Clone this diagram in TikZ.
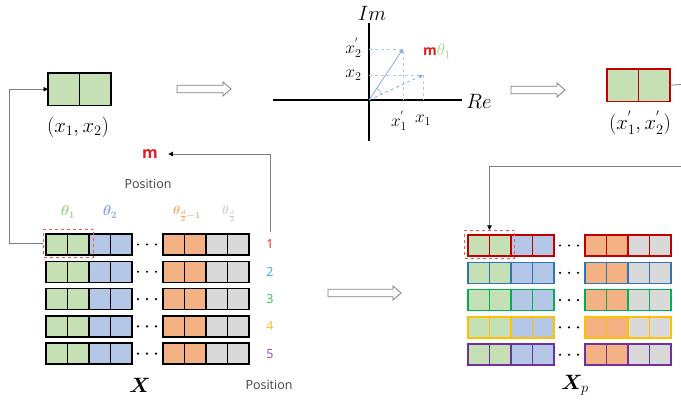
\documentclass[tikz,border=0pt]{standalone}
\usepackage{amsmath,bm}
\usepackage{fontspec}
\setsansfont{Open Sans}
\usetikzlibrary{arrows.meta,calc}
\definecolor{cgreen}{HTML}{C5E0B4}
\definecolor{cblue}{HTML}{B4C7E7}
\definecolor{corange}{HTML}{F4B183}
\definecolor{cgray}{HTML}{D9D9D9}
\definecolor{rred}{HTML}{C00000}
\definecolor{rblue}{HTML}{2E75B6}
\definecolor{rgreen}{HTML}{00B050}
\definecolor{ryellow}{HTML}{FFC000}
\definecolor{rpurple}{HTML}{7030A0}
\definecolor{nred}{HTML}{E02020}
\definecolor{nblue}{HTML}{30A8F8}
\definecolor{ngreen}{HTML}{30C050}
\definecolor{nyellow}{HTML}{FFC020}
\definecolor{npurple}{HTML}{9040C8}
\definecolor{linegray}{HTML}{7F7F7F}
\definecolor{vecblue}{HTML}{7FB0E8}
\definecolor{dashblue}{HTML}{A8CCF0}
\definecolor{tgreen}{HTML}{A9D18E}
\definecolor{tblue}{HTML}{8FAADC}
\definecolor{torange}{HTML}{F8A868}
\definecolor{tgray}{HTML}{D0D0D0}
\definecolor{boxred}{HTML}{FF5050}
\newcommand\harrow[3]{\draw[harr] (#1,#3-3.7) -- (#2-8,#3-3.7) -- (#2-8,#3-7) -- (#2,#3) -- (#2-8,#3+7) -- (#2-8,#3+3.7) -- (#1,#3+3.7) -- cycle;}
\begin{document}
\begin{tikzpicture}[x=1pt,y=-1pt,
  cell/.style={line width=1.4pt, minimum width=21.5pt, minimum height=21pt, inner sep=0pt, outer sep=0pt, anchor=north west},
  bigcell/.style={line width=1.4pt, minimum width=31.5pt, minimum height=32.5pt, inner sep=0pt, outer sep=0pt, anchor=north west, fill=cgreen},
  cellborder/.style={line width=1.4pt},
  conn/.style={draw=linegray, line width=0.8pt, -{Triangle[length=4.5pt,width=4.5pt,black]}},
  harr/.style={draw=linegray, line width=0.8pt, fill=white},
  dbox/.style={draw=boxred, dashed, line width=1pt, inner sep=0pt, minimum width=50pt, minimum height=28pt, anchor=north west},
  postext/.style={font=\sffamily\fontsize{12.5}{14}\selectfont, text=black!75},
  num/.style={font=\sffamily\fontsize{12.5}{14}\selectfont},
  mathlbl/.style={font=\fontsize{20}{22}\selectfont},
  smlbl/.style={font=\fontsize{17}{19}\selectfont},
  axlbl/.style={font=\fontsize{21}{23}\selectfont},
  thlbl/.style={font=\fontsize{14}{16}\selectfont},
  dotc/.style={circle, fill=black, inner sep=0pt, minimum size=2.4pt}
]
\useasboundingbox (0,0) rectangle (681,403);

% ---- top-left pair
\node[bigcell] (tl1) at (48,73) {};
\node[bigcell] (tl2) at (79.5,73) {};
\draw[cellborder] (tl1.north west) rectangle (tl1.south east);
\draw[cellborder] (tl2.north west) rectangle (tl2.south east);
\node[mathlbl] (tllbl) at (78,127) {$(x_1,x_2)$};

% ---- top-right pair
\node[bigcell] (tr1) at (607,69) {};
\node[bigcell] (tr2) at (638.5,69) {};
\draw[cellborder, rred] (tr1.north west) rectangle (tr1.south east);
\draw[cellborder, rred] (tr2.north west) rectangle (tr2.south east);
\node[mathlbl] (trlbl) at (640,123) {$(x_1^{'},x_2^{'})$};
\coordinate (trout) at (681,84.5);
\draw[draw=linegray, line width=0.8pt] (tr2.east) -- (trout);

% ---- hollow arrows
\harrow{177}{231}{89}
\harrow{511}{565}{90}
\harrow{328}{401}{293}

% ---- complex plane
\coordinate (O) at (369,100);
\coordinate (Rea) at (273,100);
\coordinate (Reb) at (462,100);
\coordinate (Ima) at (369,23);
\coordinate (Imb) at (369,141);
\draw[line width=1.6pt] (Rea) -- (Reb);
\draw[line width=1.6pt] (Ima) -- (Imb);
\node[axlbl] (im) at (372,13) {$Im$};
\node[axlbl] (re) at (479,101) {$Re$};
\coordinate (P1) at (423,75);
\coordinate (P2) at (403,49);
\draw[dashblue, dashed, line width=0.8pt] (369,75) -- (P1) -- (423,100);
\draw[dashblue, dashed, line width=0.8pt] (369,49) -- (P2) -- (403,100);
\draw[vecblue, dashed, line width=0.8pt, -{Triangle[length=4pt,width=4pt]}] (O) -- (P1);
\draw[vecblue, line width=0.8pt, -{Triangle[length=4pt,width=4pt]}] (O) -- (P2);
\draw[vecblue, line width=0.6pt] ($(O)+(12.7,-5.9)$) arc[start angle=-24.8, end angle=-56.3, radius=14];
\node[smlbl, anchor=east] (lx2p) at (365,48) {$x_2^{'}$};
\node[smlbl, anchor=east] (lx2) at (365,75) {$x_2$};
\node[smlbl] (lx1p) at (399,121) {$x_1^{'}$};
\node[smlbl] (lx1) at (423,120) {$x_1$};
\node[anchor=west, inner sep=0pt] (mth) at (423,51) {\textcolor{nred}{\sffamily\bfseries\fontsize{14}{16}\selectfont m}\textcolor{tgreen}{\fontsize{16}{18}\selectfont$\theta_1$}};

% ---- left matrix X
\node[font=\sffamily\bfseries\fontsize{16}{18}\selectfont, text=nred] (mlbl) at (150,154) {m};
\node[postext] (pos1) at (148,184) {Position};
\node[thlbl, text=tgreen] (th1) at (68,212) {$\bm{\theta}_{\bm{1}}$};
\node[thlbl, text=tblue] (th2) at (110,212) {$\bm{\theta}_{\bm{2}}$};
\node[font=\fontsize{13}{15}\selectfont, text=torange] (th3) at (187,214) {$\bm{\theta}_{\frac{\bm{d}}{\bm{2}}\bm{-1}}$};
\node[font=\fontsize{13}{15}\selectfont, text=tgray] (th4) at (229,214) {$\bm{\theta}_{\frac{\bm{d}}{\bm{2}}}$};

\foreach \r/\nc in {1/nred,2/nblue,3/ngreen,4/nyellow,5/npurple} {
  \pgfmathsetmacro{\yt}{234+(\r-1)*27.3}
  \foreach \c/\cx/\fc in {1/46/cgreen,2/67.5/cgreen,3/89/cblue,4/110.5/cblue,5/163/corange,6/184.5/corange,7/206/cgray,8/227.5/cgray} {
    \node[cell, fill=\fc] (L\r-\c) at (\cx,\yt) {};
  }
  \foreach \c in {1,...,8} {
    \draw[cellborder] (L\r-\c.north west) rectangle (L\r-\c.south east);
  }
  \node[dotc] (Ld\r a) at (138,\yt+10.5) {};
  \node[dotc] (Ld\r b) at (147,\yt+10.5) {};
  \node[dotc] (Ld\r c) at (156,\yt+10.5) {};
  \node[num, text=\nc] (N\r) at (270,\yt+10.5) {\r};
}
\node[dbox] (dboxL) at (43,229) {};
\node[font=\fontsize{21}{23}\selectfont] (Xlbl) at (140,385) {$\bm{X}$};
\node[postext] (pos2) at (269,385) {Position};

\coordinate (mstart) at (270,232);
\draw[conn] (mstart) |- ($(mlbl.east)+(7,0)$);
\draw[conn] (dboxL.west) -- ++(-34,0) |- (tl1.west);

% ---- right matrix Xp
\foreach \r/\rc in {1/rred,2/rblue,3/rgreen,4/ryellow,5/rpurple} {
  \pgfmathsetmacro{\yt}{235+(\r-1)*27.3}
  \foreach \c/\cx/\fc in {1/468/cgreen,2/489.5/cgreen,3/511/cblue,4/532.5/cblue,5/585/corange,6/606.5/corange,7/628/cgray,8/649.5/cgray} {
    \node[cell, fill=\fc] (R\r-\c) at (\cx,\yt) {};
  }
  \foreach \c in {1,...,8} {
    \draw[cellborder, \rc] (R\r-\c.north west) rectangle (R\r-\c.south east);
  }
  \node[dotc] (Rd\r a) at (560,\yt+10.5) {};
  \node[dotc] (Rd\r b) at (569,\yt+10.5) {};
  \node[dotc] (Rd\r c) at (578,\yt+10.5) {};
}
\node[dbox] (dboxR) at (464,230) {};
\node[font=\fontsize{21}{23}\selectfont] (Xplbl) at (575,385) {$\bm{X}_p$};
\coordinate (rin) at (681,166);
\draw[conn] (rin) -| (dboxR.north);

\end{tikzpicture}
\end{document}
